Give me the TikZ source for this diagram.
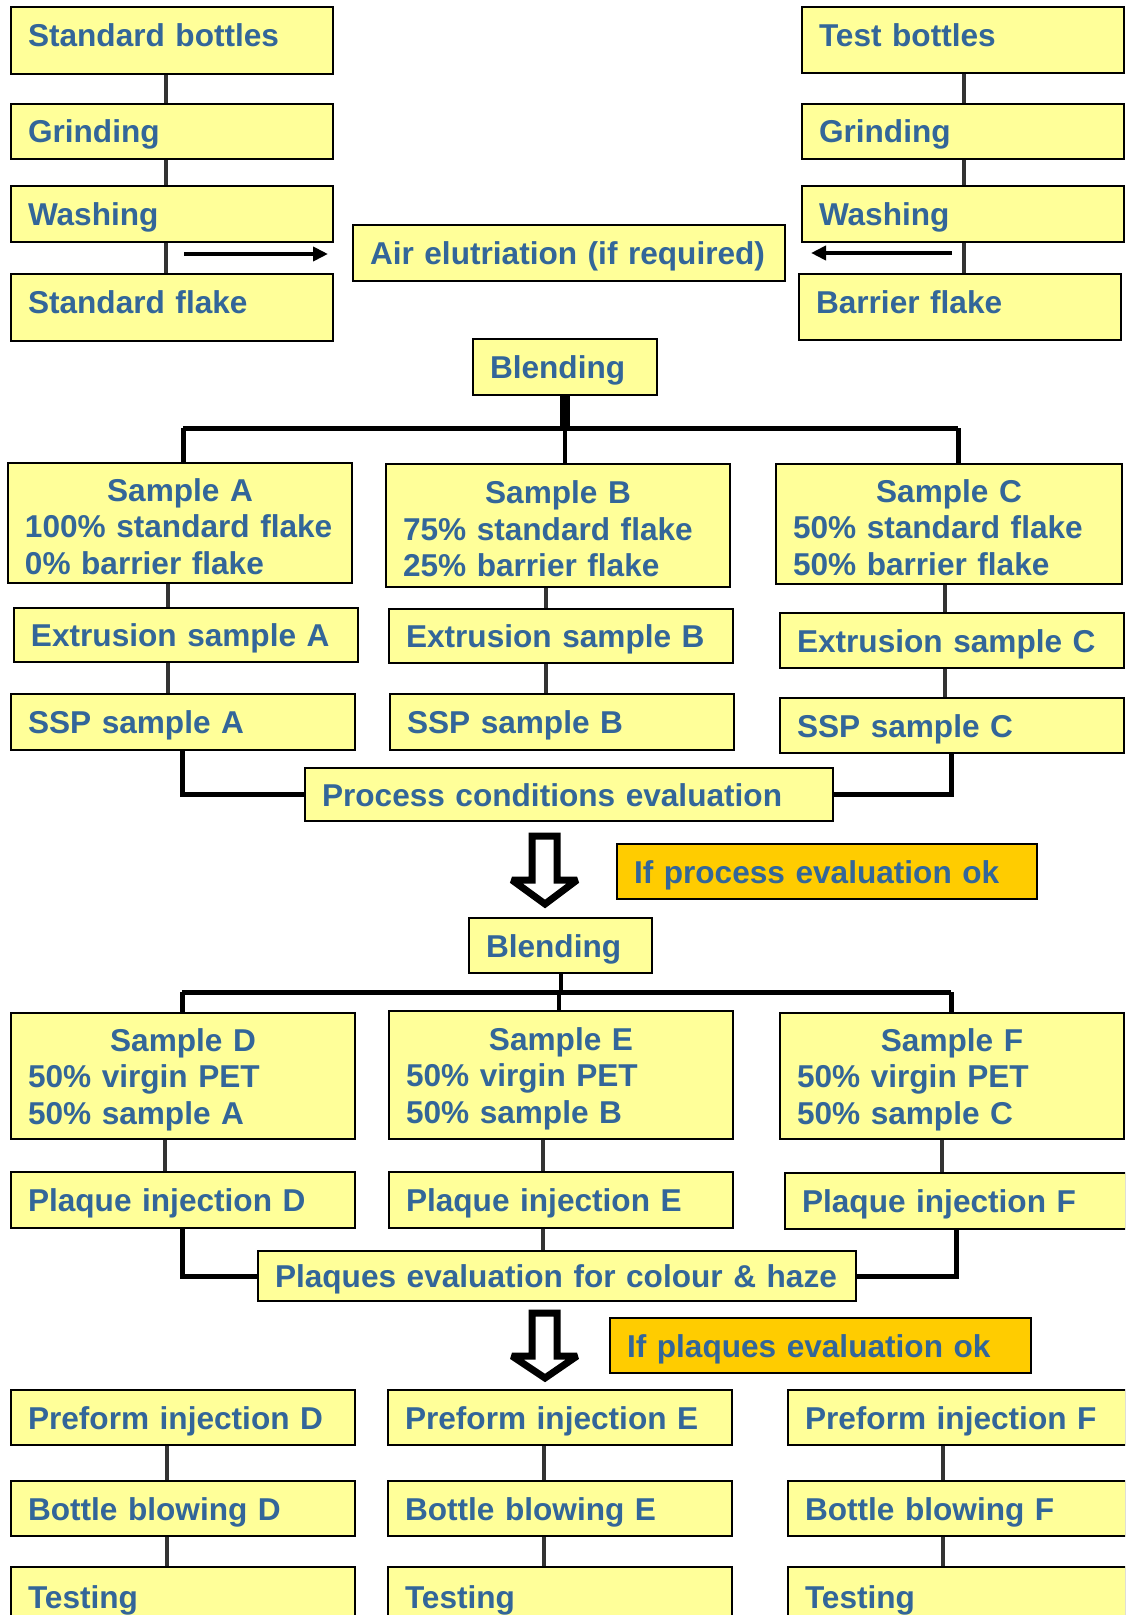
\documentclass[tikz,border=0pt]{standalone}
\usepackage{fontspec}
\setmainfont{Liberation Sans}
\usetikzlibrary{arrows.meta}
\definecolor{boxyellow}{RGB}{255,255,153}
\definecolor{textblue}{RGB}{51,102,153}
\definecolor{okorange}{RGB}{255,204,0}
\definecolor{linkgray}{RGB}{51,51,51}
\begin{document}
\begin{tikzpicture}[x=0.5pt, y=-0.5pt,
	stage/.style={draw=black, line width=1pt, fill=boxyellow, text=textblue, font=\bfseries\fontsize{15.8}{18.3}\selectfont, anchor=north west, inner xsep=8.5pt, inner ysep=0pt, align=left, text width=155pt, minimum height=27.5pt, execute at begin node={\rightskip=-40pt plus 1fil\relax\rule[-3.5pt]{0pt}{18.5pt}}},
	tall/.style={stage, execute at begin node={\rightskip=-40pt plus 1fil\relax\rule[-8.6pt]{0pt}{20.6pt}}},
	note/.style={stage, fill=okorange},
	link/.style={draw=linkgray, line width=2pt},
	tree/.style={draw=black, line width=2.5pt},
	flow/.style={draw=black, line width=2pt, -{Triangle[length=7.5pt,width=7pt]}},
	gate/.style={draw=black, fill=white, line width=3.5pt, line join=miter, miter limit=1.5}]
	\useasboundingbox (0,0) rectangle (1125,1615);
	\clip (0,0) rectangle (1125,1615);

	\node[tall, text width=144pt, minimum height=33.5pt] (stb) at (10,6) {Standard bottles};
	\node[stage, text width=144pt] (gr1) at (10,103) {Grinding};
	\node[stage, text width=144pt, minimum height=28pt] (wa1) at (10,185) {Washing};
	\node[tall, text width=144pt, minimum height=33.5pt] (stf) at (10,273) {Standard flake};
	\node[tall, text width=144pt, minimum height=33pt] (teb) at (801,6) {Test bottles};
	\node[stage, text width=144pt] (gr2) at (801,103) {Grinding};
	\node[stage, text width=144pt, minimum height=28pt] (wa2) at (801,185) {Washing};
	\node[tall, text width=144pt, minimum height=33pt] (baf) at (798,273) {Barrier flake};
	\node[stage, text width=199pt, minimum height=28pt] (air) at (352,224) {Air elutriation (if required)};
	\node[stage, text width=75pt, minimum height=28pt] (bl1) at (472,338) {Blending};

	\node[stage, text width=155pt, minimum height=60pt] (sma) at (7,462) {\makebox[\hsize]{Sample A}\\100\% standard flake\\0\% barrier flake};
	\node[stage, text width=155pt, minimum height=61.5pt] (smb) at (385,463) {\makebox[\hsize]{Sample B}\\75\% standard flake\\25\% barrier flake};
	\node[stage, text width=156pt, minimum height=60pt] (smc) at (775,463) {\makebox[\hsize]{Sample C}\\50\% standard flake\\50\% barrier flake};
	\node[stage, minimum height=27pt] (exa) at (13,607) {Extrusion sample A};
	\node[stage, minimum height=27pt] (exb) at (388,608) {Extrusion sample B};
	\node[stage] (exc) at (779,612) {Extrusion sample C};
	\node[stage, minimum height=28pt] (ssa) at (10,693) {SSP sample A};
	\node[stage, minimum height=28pt] (ssb) at (389,693) {SSP sample B};
	\node[stage] (ssc) at (779,697) {SSP sample C};
	\node[stage, text width=247pt, minimum height=26.5pt] (pce) at (304,767) {Process conditions evaluation};
	\node[note, text width=193pt] (ok1) at (616,843) {If process evaluation ok};
	\node[stage, text width=74.5pt] (bl2) at (468,917) {Blending};

	\node[stage, minimum height=63pt] (smd) at (10,1012) {\makebox[\hsize]{Sample D}\\50\% virgin PET\\50\% sample A};
	\node[stage, minimum height=64pt] (sme) at (388,1010) {\makebox[\hsize]{Sample E}\\50\% virgin PET\\50\% sample B};
	\node[stage, minimum height=63pt] (smf) at (779,1012) {\makebox[\hsize]{Sample F}\\50\% virgin PET\\50\% sample C};
	\node[stage, minimum height=28pt] (pqd) at (10,1171) {Plaque injection D};
	\node[stage, minimum height=28pt] (pqe) at (388,1171) {Plaque injection E};
	\node[stage, text width=153.5pt, minimum height=28pt] (pqf) at (784,1172) {Plaque injection F};
	\node[stage, text width=282pt, minimum height=25pt] (pqev) at (257,1250) {Plaques evaluation for colour \& haze};
	\node[note, text width=193.5pt] (ok2) at (609,1317) {If plaques evaluation ok};

	\node[stage] (pfd) at (10,1389) {Preform injection D};
	\node[stage] (pfe) at (387,1389) {Preform injection E};
	\node[stage, text width=152pt] (pff) at (787,1389) {Preform injection F};
	\node[stage] (bbd) at (10,1480) {Bottle blowing D};
	\node[stage] (bbe) at (387,1480) {Bottle blowing E};
	\node[stage, text width=152pt] (bbf) at (787,1480) {Bottle blowing F};
	\node[stage, minimum height=30pt] (tsd) at (10,1566) {Testing};
	\node[stage, minimum height=30pt] (tse) at (387,1566) {Testing};
	\node[stage, text width=152pt, minimum height=30pt] (tsf) at (787,1566) {Testing};

	\coordinate (cl) at (166,0);
	\coordinate (cr) at (964,0);
	\draw[link] (stb.south -| cl) -- (gr1.north -| cl);
	\draw[link] (gr1.south -| cl) -- (wa1.north -| cl);
	\draw[link] (wa1.south -| cl) -- (stf.north -| cl);
	\draw[link] (teb.south -| cr) -- (gr2.north -| cr);
	\draw[link] (gr2.south -| cr) -- (wa2.north -| cr);
	\draw[link] (wa2.south -| cr) -- (baf.north -| cr);
	\coordinate (al) at (184,254);
	\coordinate (ar) at (952,253);
	\draw[flow, shorten >=12pt] (al) -- (al -| air.west);
	\draw[flow, shorten >=12.5pt] (ar) -- (ar -| air.east);

	\coordinate (ja) at (183,428);
	\coordinate (jb) at (565,428);
	\coordinate (jc) at (958,428);
	\draw[tree, line width=5pt] (bl1.south) -- (bl1.south |- jb);
	\draw[tree] (ja) -- (jc);
	\draw[tree] (ja) -- (sma.north -| ja);
	\draw[tree, line width=2pt] (jb) -- (smb.north -| jb);
	\draw[tree] (jc) -- (smc.north -| jc);
	\coordinate (ca) at (168,0);
	\coordinate (cb) at (546,0);
	\coordinate (cc) at (945,0);
	\draw[link] (sma.south -| ca) -- (exa.north -| ca);
	\draw[link] (exa.south -| ca) -- (ssa.north -| ca);
	\draw[link] (smb.south -| cb) -- (exb.north -| cb);
	\draw[link] (exb.south -| cb) -- (ssb.north -| cb);
	\draw[link] (smc.south -| cc) -- (exc.north -| cc);
	\draw[link] (exc.south -| cc) -- (ssc.north -| cc);
	\coordinate (qa) at (182,0);
	\coordinate (qc) at (951,0);
	\draw[tree] (ssa.south -| qa) |- (pce.west);
	\draw[tree] (ssc.south -| qc) |- (pce.east);

	\draw[gate] (532,836) -- (557,836) -- (557,880) -- (577,880) -- (545,904) -- (512,880) -- (532,880) -- cycle;

	\coordinate (kd) at (182,992);
	\coordinate (ke) at (559,992);
	\coordinate (kf) at (951,992);
	\draw[tree, line width=2pt] (bl2.south) -- (bl2.south |- ke);
	\draw[tree] (kd) -- (kf);
	\draw[tree] (kd) -- (smd.north -| kd);
	\draw[tree, line width=2pt] (ke) -- (sme.north -| ke);
	\draw[tree] (kf) -- (smf.north -| kf);
	\coordinate (cd) at (165,0);
	\coordinate (ce) at (543,0);
	\coordinate (cf) at (942,0);
	\draw[link] (smd.south -| cd) -- (pqd.north -| cd);
	\draw[link] (sme.south -| ce) -- (pqe.north -| ce);
	\draw[link] (smf.south -| cf) -- (pqf.north -| cf);
	\coordinate (rd) at (182,0);
	\coordinate (rf) at (956,0);
	\draw[tree] (pqd.south -| rd) |- (pqev.west);
	\draw[tree] (pqf.south -| rf) |- (pqev.east);
	\draw[link] (pqe.south -| ce) -- (pqev.north -| ce);

	\draw[gate] (532,1313) -- (557,1313) -- (557,1356) -- (577,1356) -- (545,1378) -- (512,1356) -- (532,1356) -- cycle;

	\coordinate (pd) at (167,0);
	\coordinate (pe) at (544,0);
	\coordinate (pf) at (943,0);
	\draw[link] (pfd.south -| pd) -- (bbd.north -| pd);
	\draw[link] (bbd.south -| pd) -- (tsd.north -| pd);
	\draw[link] (pfe.south -| pe) -- (bbe.north -| pe);
	\draw[link] (bbe.south -| pe) -- (tse.north -| pe);
	\draw[link] (pff.south -| pf) -- (bbf.north -| pf);
	\draw[link] (bbf.south -| pf) -- (tsf.north -| pf);
\end{tikzpicture}
\end{document}
